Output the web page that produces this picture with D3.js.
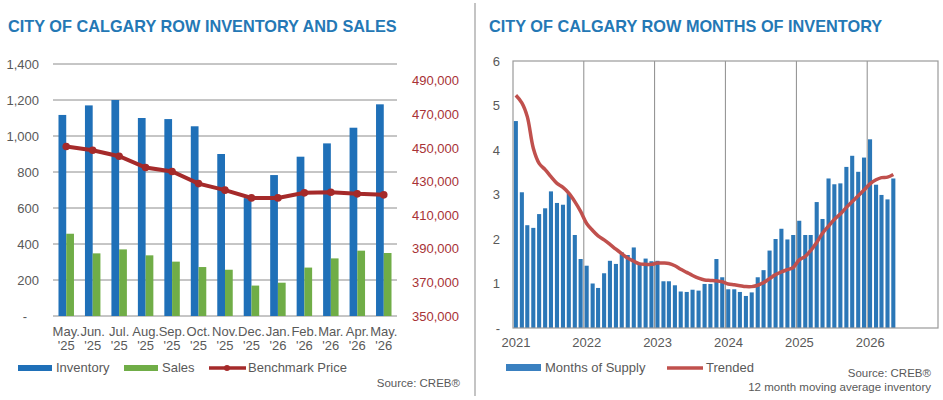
<!DOCTYPE html>
<html>
<head>
<meta charset="utf-8">
<script src="https://d3js.org/d3.v7.min.js"></script>
<style>
  body { margin: 0; background: #fff; }
  text { font-family: "Liberation Sans", Arial, sans-serif; }
</style>
</head>
<body>
<div id="chart"></div>
<script>
"use strict";

// ---- left chart data ----
var months = ["May. '25", "Jun. '25", "Jul. '25", "Aug. '25", "Sep. '25", "Oct. '25", "Nov. '25",
              "Dec. '25", "Jan. '26", "Feb. '26", "Mar. '26", "Apr. '26", "May. '26"];
var inventory = [1117, 1170, 1200, 1100, 1094, 1054, 900, 655, 783, 885, 959, 1046, 1176];
var sales = [457, 348, 370, 337, 302, 272, 257, 169, 185, 269, 320, 363, 350];
var benchmark = [450900, 448700, 445100, 438400, 436000, 428800, 424900, 420300, 420300, 423300, 423700, 422700, 422100];
var leftTicks = [0, 200, 400, 600, 800, 1000, 1200, 1400];
var rightTicks = [350000, 370000, 390000, 410000, 430000, 450000, 470000, 490000];

// ---- right chart data (monthly, Jan 2021 - May 2026) ----
var supply = [4.65, 3.05, 2.31, 2.25, 2.56, 2.69, 3.07, 2.81, 2.77, 3.03, 2.09, 1.55,
              1.40, 1.00, 0.90, 1.23, 1.51, 1.44, 1.70, 1.64, 1.81, 1.44, 1.56, 1.50,
              1.51, 1.05, 1.05, 0.96, 0.82, 0.81, 0.86, 0.84, 0.99, 0.99, 1.55, 1.14,
              0.87, 0.87, 0.81, 0.72, 0.80, 1.14, 1.30, 1.74, 2.00, 2.23, 1.99, 2.09,
              2.41, 2.09, 2.09, 2.83, 2.45, 3.36, 3.23, 3.25, 3.62, 3.87, 3.51, 3.83,
              4.24, 3.22, 2.99, 2.89, 3.36];
var trended = [5.23, 5.06, 4.75, 4.04, 3.70, 3.56, 3.40, 3.25, 3.16, 3.03, 2.84, 2.62,
               2.35, 2.19, 2.07, 1.98, 1.88, 1.77, 1.67, 1.57, 1.50, 1.44, 1.43, 1.43,
               1.46, 1.46, 1.45, 1.40, 1.32, 1.25, 1.18, 1.12, 1.08, 1.07, 1.06, 1.04,
               0.99, 0.97, 0.95, 0.93, 0.93, 0.96, 1.02, 1.11, 1.20, 1.26, 1.31, 1.36,
               1.53, 1.61, 1.74, 1.92, 2.13, 2.29, 2.44, 2.56, 2.71, 2.84, 2.97, 3.10,
               3.24, 3.33, 3.38, 3.39, 3.45];
var supplyTicks = [0, 1, 2, 3, 4, 5, 6];
var years = [2021, 2022, 2023, 2024, 2025, 2026];
var supplyDates = d3.timeMonth.range(new Date(2021, 0, 1), new Date(2026, 5, 1));

var blue = "#1f70b8", green = "#70ad47", darkRed = "#a52a2a", gray = "#595959";

var svg = d3.select("#chart").append("svg").attr("width", 943).attr("height", 400);

// divider
svg.append("line").attr("x1", 475).attr("x2", 475).attr("y1", 3).attr("y2", 396)
  .attr("stroke", "#b0b0b0").attr("stroke-width", 1.5);

// ================= LEFT CHART =================
svg.append("text").attr("x", 8).attr("y", 32)
  .attr("fill", "#2478b5").style("font-size", "16.3px").style("font-weight", "bold")
  .text("CITY OF CALGARY ROW INVENTORY AND SALES");

var x = d3.scaleBand().domain(months).range([53, 397]);
var xs = d3.scaleBand().domain(["inv", "sales"]).range([0, x.bandwidth()]).paddingOuter(0.71);
var y = d3.scaleLinear().domain([0, 1400]).range([316, 64]);
var y2 = d3.scaleLinear().domain([350000, 500000]).range([316, 64]);

var left = svg.append("g");

left.selectAll(".grid").data(leftTicks).enter().append("line")
  .attr("x1", 53).attr("x2", 397)
  .attr("y1", function (d) { return y(d); }).attr("y2", function (d) { return y(d); })
  .attr("stroke", "#8c8c8c").attr("stroke-width", 1);

var yAxis = d3.axisLeft(y).tickValues(leftTicks).tickSize(0).tickPadding(0)
  .tickFormat(function (d) { return d === 0 ? "-" : d3.format(",")(d); });
left.append("g").attr("transform", "translate(39,0)").call(yAxis)
  .call(function (g) { g.select(".domain").remove(); })
  .selectAll("text").attr("fill", gray).style("font-size", "13px").attr("dx", d => d === 0 ? "-12" : "0");

var y2Axis = d3.axisRight(y2).tickValues(rightTicks).tickSize(0).tickPadding(0)
  .tickFormat(d3.format(","));
left.append("g").attr("transform", "translate(412,0)").call(y2Axis)
  .call(function (g) { g.select(".domain").remove(); })
  .selectAll("text").attr("fill", "#a83236").style("font-size", "13px");

left.selectAll(".inv").data(inventory).enter().append("rect")
  .attr("x", function (d, i) { return x(months[i]) + xs("inv"); })
  .attr("width", xs.bandwidth())
  .attr("y", function (d) { return y(d); })
  .attr("height", function (d) { return y(0) - y(d); })
  .attr("fill", blue);

left.selectAll(".sales").data(sales).enter().append("rect")
  .attr("x", function (d, i) { return x(months[i]) + xs("sales"); })
  .attr("width", xs.bandwidth())
  .attr("y", function (d) { return y(d); })
  .attr("height", function (d) { return y(0) - y(d); })
  .attr("fill", green);

// x labels in two lines
var xl = left.selectAll(".xl").data(months).enter().append("text")
  .attr("text-anchor", "middle").attr("fill", gray).style("font-size", "13px")
  .attr("x", function (d) { return x(d) + x.bandwidth() / 2; });
xl.append("tspan").attr("y", 336).text(function (d) { return d.split(" ")[0]; });
xl.append("tspan").attr("y", 350).attr("x", function (d) { return x(d) + x.bandwidth() / 2; })
  .text(function (d) { return d.split(" ")[1]; });

var bLine = d3.line()
  .x(function (d, i) { return x(months[i]) + x.bandwidth() / 2; })
  .y(function (d) { return y2(d); });
left.append("path").datum(benchmark).attr("d", bLine)
  .attr("fill", "none").attr("stroke", darkRed).attr("stroke-width", 4);
left.selectAll(".dot").data(benchmark).enter().append("circle")
  .attr("cx", function (d, i) { return x(months[i]) + x.bandwidth() / 2; })
  .attr("cy", function (d) { return y2(d); })
  .attr("r", 3.8).attr("fill", darkRed);

// left legend
var lg = svg.append("g").style("font-size", "13px");
lg.append("rect").attr("x", 18).attr("y", 365).attr("width", 34).attr("height", 6).attr("fill", blue);
lg.append("text").attr("x", 56).attr("y", 372).attr("fill", gray).text("Inventory");
lg.append("rect").attr("x", 124).attr("y", 365).attr("width", 34).attr("height", 6).attr("fill", green);
lg.append("text").attr("x", 162).attr("y", 372).attr("fill", gray).text("Sales");
lg.append("line").attr("x1", 209).attr("x2", 246).attr("y1", 368).attr("y2", 368)
  .attr("stroke", darkRed).attr("stroke-width", 3.5);
lg.append("circle").attr("cx", 227).attr("cy", 368).attr("r", 3).attr("fill", darkRed);
lg.append("text").attr("x", 248).attr("y", 372).attr("fill", gray).text("Benchmark Price");
svg.append("text").attr("x", 460).attr("y", 387).attr("text-anchor", "end")
  .attr("fill", gray).style("font-size", "11.5px").text("Source: CREB®");

// ================= RIGHT CHART =================
svg.append("text").attr("x", 489).attr("y", 32)
  .attr("fill", "#2478b5").style("font-size", "16.3px").style("font-weight", "bold")
  .text("CITY OF CALGARY ROW MONTHS OF INVENTORY");

var xt = d3.scaleTime().domain([new Date(2021, 0, 1), new Date(2027, 0, 1)]).range([513, 938]);
var ys = d3.scaleLinear().domain([0, 6]).range([328, 61]);
var right = svg.append("g");

right.selectAll(".vgrid").data(years.slice(1)).enter().append("line")
  .attr("x1", function (d) { return xt(new Date(d, 0, 1)); })
  .attr("x2", function (d) { return xt(new Date(d, 0, 1)); })
  .attr("y1", 61).attr("y2", 328)
  .attr("stroke", "#8c8c8c").attr("stroke-width", 1);

var monthW = xt(new Date(2021, 1, 1)) - xt(new Date(2021, 0, 1));
right.selectAll(".sbar").data(supply).enter().append("rect")
  .attr("x", function (d, i) { return xt(supplyDates[i]) + 0.8; })
  .attr("width", monthW * 0.68)
  .attr("y", function (d) { return ys(d); })
  .attr("height", function (d) { return ys(0) - ys(d); })
  .attr("fill", "#2b77b7");

right.append("rect").attr("x", 513).attr("y", 61).attr("width", 425).attr("height", 267)
  .attr("fill", "none").attr("stroke", "#9a9a9a").attr("stroke-width", 1.2);

var tLine = d3.line().curve(d3.curveCatmullRom)
  .x(function (d, i) { return xt(supplyDates[i]) + 0.8 + monthW * 0.34; })
  .y(function (d) { return ys(d); });
right.append("path").datum(trended).attr("d", tLine)
  .attr("fill", "none").attr("stroke", "#c0504d").attr("stroke-width", 3.5);

var ysAxis = d3.axisLeft(ys).tickValues(supplyTicks).tickSize(0).tickPadding(0)
  .tickFormat(function (d) { return d === 0 ? "-" : d; });
right.append("g").attr("transform", "translate(500,0)").call(ysAxis)
  .call(function (g) { g.select(".domain").remove(); })
  .selectAll("text").attr("fill", gray).style("font-size", "13px");

right.selectAll(".yl").data(years).enter().append("text")
  .attr("x", function (d) { return xt(new Date(d, 0, 1)) + 3; })
  .attr("y", 347).attr("text-anchor", "middle").attr("fill", gray).style("font-size", "13px")
  .text(function (d) { return d; });

var rg = svg.append("g").style("font-size", "13px");
rg.append("rect").attr("x", 506).attr("y", 364).attr("width", 35).attr("height", 7).attr("fill", "#3a80c0");
rg.append("text").attr("x", 545).attr("y", 372).attr("fill", gray).text("Months of Supply");
rg.append("line").attr("x1", 667).attr("x2", 703).attr("y1", 368).attr("y2", 368)
  .attr("stroke", "#c0504d").attr("stroke-width", 3.5);
rg.append("text").attr("x", 706).attr("y", 372).attr("fill", gray).text("Trended");
svg.append("text").attr("x", 931).attr("y", 377).attr("text-anchor", "end")
  .attr("fill", gray).style("font-size", "11.5px").text("Source: CREB®");
svg.append("text").attr("x", 931).attr("y", 391).attr("text-anchor", "end")
  .attr("fill", gray).style("font-size", "11.5px").text("12 month moving average inventory");
</script>
</body>
</html>
